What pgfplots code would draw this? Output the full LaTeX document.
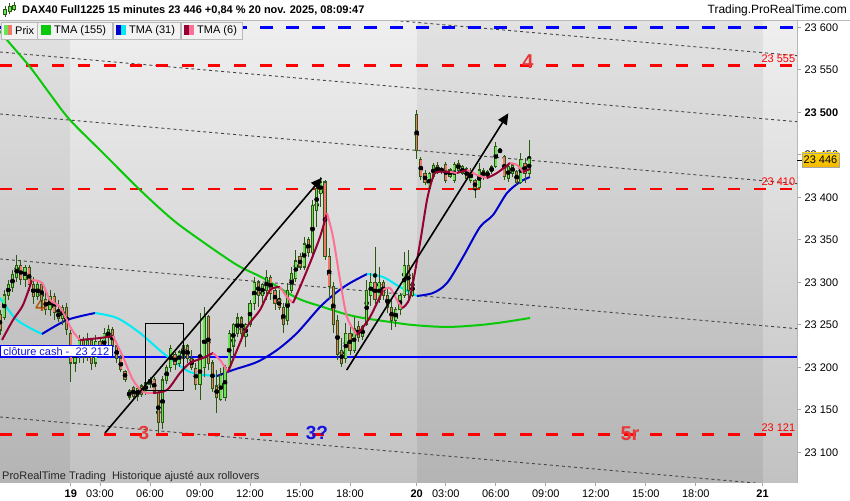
\documentclass[border=0pt]{standalone}
\usepackage{pgfplots}
\pgfplotsset{compat=1.18}
\usepackage{pgfplotstable}
\usepackage{fontspec}
\setmainfont{Liberation Sans}
\usetikzlibrary{arrows.meta}

\newcommand{\fsz}[1]{\fontsize{#1}{#1}\selectfont}

\definecolor{upfill}{RGB}{105,228,85}
\definecolor{dnfill}{RGB}{238,120,105}
\definecolor{wick}{RGB}{42,88,16}
\definecolor{tmaG}{RGB}{10,200,10}
\definecolor{tmaBup}{RGB}{0,0,205}
\definecolor{tmaBdn}{RGB}{0,235,245}
\definecolor{tmaRup}{RGB}{150,0,50}
\definecolor{tmaRdn}{RGB}{255,112,150}
\definecolor{lvlred}{RGB}{255,0,0}
\definecolor{lvlblue}{RGB}{0,0,255}
\definecolor{lblred}{RGB}{232,56,56}
\definecolor{lblblue}{RGB}{20,20,225}
\definecolor{brown4}{RGB}{175,90,10}
\definecolor{chan}{RGB}{70,70,70}
\definecolor{bgLt}{RGB}{239,239,239}
\definecolor{bgLb}{RGB}{194,194,194}
\definecolor{bgDt}{RGB}{226,226,226}
\definecolor{bgDb}{RGB}{180,180,180}
\definecolor{legbg}{RGB}{242,242,242}
\definecolor{legbd}{RGB}{185,185,185}

% DAX40 15 min candles: x = trading hours from 19 nov. 00:00 (session gap removed)
\pgfplotstableread{
x o h l c
-3.00 23262 23267 23238 23244
-2.75 23259 23291 23256 23285
-2.50 23285 23303 23279 23297
-2.25 23294 23314 23288 23309
-2.00 23306 23332 23300 23320
-1.75 23320 23326 23297 23303
-1.50 23303 23320 23295 23317
-1.25 23317 23320 23290 23297
-1.00 23297 23306 23275 23283
-0.75 23283 23303 23279 23297
-0.50 23297 23300 23270 23279
-0.25 23280 23288 23262 23268
0.00 23268 23291 23260 23283
0.25 23283 23287 23256 23265
0.50 23265 23279 23253 23258
0.75 23258 23273 23250 23270
1.00 23270 23276 23238 23244
1.25 23240 23244 23183 23205
1.50 23205 23226 23195 23222
1.75 23215 23238 23205 23232
2.00 23232 23236 23205 23212
2.25 23212 23240 23208 23232
2.50 23232 23235 23197 23205
2.75 23205 23238 23200 23230
3.00 23230 23234 23211 23215
3.25 23218 23246 23215 23240
3.50 23235 23250 23226 23244
3.75 23244 23247 23220 23225
4.00 23225 23229 23205 23210
4.25 23210 23214 23194 23197
4.50 23195 23197 23183 23186
4.75 23165 23175 23162 23172
5.00 23176 23178 23163 23166
5.25 23166 23178 23160 23175
5.50 23178 23180 23165 23168
5.75 23170 23185 23168 23182
6.00 23180 23189 23176 23186
6.25 23186 23188 23168 23172
6.50 23170 23173 23121 23135
6.75 23135 23190 23128 23185
7.00 23185 23203 23180 23200
7.25 23200 23226 23195 23222
7.50 23215 23218 23197 23203
7.75 23205 23220 23200 23218
8.00 23210 23236 23205 23225
8.25 23225 23228 23205 23210
8.50 23210 23220 23197 23200
8.75 23199 23205 23173 23180
9.00 23180 23264 23162 23210
9.25 23200 23271 23189 23260
9.50 23260 23262 23197 23205
9.75 23205 23209 23171 23175
10.00 23178 23197 23146 23165
10.25 23162 23199 23160 23190
10.50 23165 23203 23160 23200
10.75 23200 23244 23197 23240
11.00 23225 23252 23211 23250
11.25 23240 23264 23236 23258
11.50 23258 23260 23230 23240
11.75 23236 23252 23224 23250
12.00 23250 23279 23247 23275
12.25 23275 23306 23267 23300
12.50 23300 23303 23271 23285
12.75 23285 23299 23276 23297
13.00 23290 23314 23279 23306
13.25 23306 23309 23279 23287
13.50 23290 23294 23267 23275
13.75 23280 23291 23267 23270
14.00 23270 23276 23240 23250
14.25 23255 23299 23250 23290
14.50 23290 23318 23287 23310
14.75 23305 23338 23300 23325
15.00 23330 23334 23314 23318
15.25 23318 23353 23314 23345
15.50 23350 23353 23330 23335
15.75 23335 23397 23330 23390
16.00 23385 23417 23365 23410
16.25 23405 23424 23389 23418
16.50 23418 23420 23326 23330
16.75 23330 23340 23280 23295
17.00 23295 23300 23240 23250
17.25 23255 23262 23209 23215
17.50 23220 23234 23200 23205
17.75 23210 23252 23205 23240
18.00 23240 23247 23215 23220
18.25 23220 23259 23217 23245
18.50 23248 23255 23230 23235
18.75 23236 23250 23232 23248
19.00 23250 23303 23248 23290
19.25 23285 23311 23272 23300
19.50 23300 23342 23274 23280
19.75 23280 23318 23276 23300
20.00 23300 23303 23279 23285
20.25 23285 23294 23264 23270
20.50 23270 23279 23244 23255
20.75 23255 23271 23247 23268
21.00 23268 23287 23262 23285
21.25 23285 23336 23282 23320
21.50 23320 23338 23279 23290
21.75 23285 23311 23283 23300
22.00 23497 23503 23445 23455
22.25 23444 23447 23420 23425
22.50 23428 23432 23415 23418
22.75 23410 23430 23406 23428
23.00 23425 23440 23422 23437
23.25 23437 23441 23427 23430
23.50 23430 23436 23428 23434
23.75 23438 23441 23417 23420
24.00 23425 23435 23423 23432
24.25 23420 23441 23417 23438
24.50 23440 23444 23430 23432
24.75 23428 23438 23426 23436
25.00 23434 23436 23420 23422
25.25 23420 23434 23417 23430
25.50 23420 23422 23399 23410
25.75 23412 23440 23410 23432
26.00 23432 23434 23420 23424
26.25 23424 23432 23422 23430
26.50 23430 23438 23428 23436
26.75 23436 23465 23434 23460
27.00 23456 23457 23452 23454
27.25 23448 23450 23420 23425
27.50 23422 23440 23418 23436
27.75 23428 23440 23424 23438
28.00 23430 23432 23414 23418
28.25 23418 23452 23416 23445
28.50 23440 23446 23417 23428
28.75 23428 23468 23424 23446
}\candles

\begin{document}
\begin{tikzpicture}[x=1pt,y=1pt]
\fill[white] (0,0) rectangle (850,500);
\path[use as bounding box] (0,0) rectangle (850,500);

\begin{axis}[
  at={(0pt,18pt)}, anchor=south west,
  width=797pt, height=461pt, scale only axis,
  xmin=-3, xmax=44.82, ymin=23065, ymax=23607.4,
  scaled x ticks=false, scaled y ticks=false,
  clip mode=individual,
  axis line style={draw=gray!60, line width=0.8pt},
  tick align=outside, major tick length=4pt,
  tick style={gray!70, line width=0.8pt},
  xtick pos=left, ytick pos=right, yticklabel pos=right,
  ytick={23100,23150,...,23600},
  yticklabels={23 100,23 150,23 200,23 250,23 300,23 350,23 400,23 450,\textbf{23 500},23 550,23 600},
  yticklabel style={font=\fsz{11}, anchor=west, xshift=0pt},
  xtick={1.25,3,6,9,12,15,18,22,23.75,26.75,29.75,32.75,35.75,38.75,42.75},
  xticklabels={\textbf{19},03:00,06:00,09:00,12:00,15:00,18:00,\textbf{20},03:00,06:00,09:00,12:00,15:00,18:00,\textbf{21}},
  xticklabel style={font=\fsz{11}},
]
% day bands
\fill[top color=bgDt, bottom color=bgDb] (axis cs:-3,23065) rectangle (axis cs:1.2,23607.4);
\fill[top color=bgLt, bottom color=bgLb] (axis cs:1.2,23065) rectangle (axis cs:22.02,23607.4);
\fill[top color=bgDt, bottom color=bgDb] (axis cs:22.02,23065) rectangle (axis cs:42.78,23607.4);
\fill[top color=bgLt, bottom color=bgLb] (axis cs:42.78,23065) rectangle (axis cs:44.82,23607.4);

% channel lines
\addplot[chan, line width=0.9pt, dash pattern=on 3pt off 3pt] coordinates {(-3,23648.6) (44.82,23566.6)};
\addplot[chan, line width=0.9pt, dash pattern=on 3pt off 3pt] coordinates {(-3,23570.9) (44.82,23488.9)};
\addplot[chan, line width=0.9pt, dash pattern=on 3pt off 3pt] coordinates {(-3,23498.0) (44.82,23416.0)};
\addplot[chan, line width=0.9pt, dash pattern=on 3pt off 3pt] coordinates {(-3,23327.4) (44.82,23245.4)};
\addplot[chan, line width=0.9pt, dash pattern=on 3pt off 3pt] coordinates {(-3,23141.5) (44.82,23059.5)};

% levels
\addplot[lvlblue, line width=2.5pt, dash pattern=on 13pt off 13pt] coordinates {(-3,23600) (44.82,23600)};
\addplot[lvlred, line width=2.5pt, dash pattern=on 12pt off 14pt] coordinates {(-3,23555) (44.82,23555)};
\addplot[lvlred, line width=2.5pt, dash pattern=on 12pt off 14pt] coordinates {(-3,23410) (44.82,23410)};
\addplot[lvlred, line width=2.5pt, dash pattern=on 12pt off 14pt] coordinates {(-3,23121) (44.82,23121)};
\addplot[lvlblue, line width=2pt] coordinates {(-3,23212) (44.82,23212)};

\node[font=\bfseries\fsz{17}, text=brown4] at (axis cs:-0.6,23273) {4};

% TMA (155)
\addplot[tmaG, line width=2pt, smooth] coordinates {
(-3,23595.6) (-2.58,23585.0) (-1.2,23553.3) (0,23521.5) (1.2,23490.9) (3.18,23452.1)
(5.4,23408.6) (7.38,23373.3) (9.18,23347.4) (11.22,23320.3) (12.78,23305.0)
(14.82,23281.5) (16.38,23270.9) (17.7,23262.7) (18.78,23258.0) (20.4,23253.3)
(21.78,23249.7) (23.82,23247.4) (25.8,23249.7) (27.3,23253.3) (28.8,23258.0)};

% TMA (31)
\addplot[tmaBdn, line width=2pt, smooth] coordinates {(-3,23281.5) (-1.98,23255.6) (-0.48,23239.1)};
\addplot[tmaBup, line width=2pt, smooth] coordinates {(-0.48,23239.1) (1.02,23255.6) (2.7,23263.8)};
\addplot[tmaBdn, line width=2pt, smooth] coordinates {(2.7,23263.8) (4.02,23258.0) (5.4,23240.3) (6.78,23216.8) (8.4,23194.4) (10.02,23189.7)};
\addplot[tmaBup, line width=2pt, smooth] coordinates {(10.02,23189.7) (10.98,23196.8) (12.42,23206.2) (13.62,23220.3) (14.82,23240.3) (16.2,23270.9) (17.22,23288.6) (18,23299.1) (19.02,23309.7)};
\addplot[tmaBdn, line width=2pt, smooth] coordinates {(19.02,23309.7) (19.98,23306.2) (21,23294.4) (22.02,23283.9)};
\addplot[tmaBup, line width=2pt, smooth] coordinates {(22.02,23283.9) (22.98,23287.4) (23.82,23299.1) (24.78,23329.7) (25.8,23365.0) (26.58,23379.1) (27.42,23405.0) (28.2,23418.0) (28.8,23423.9)};

% candles: wicks, body outlines, bodies
\addplot[only marks, mark=none, error bars/.cd, y dir=both, y explicit, error mark=none,
  error bar style={draw=wick, line width=1pt}]
  table[x=x, y expr={(\thisrow{h}+\thisrow{l})/2}, y error expr={(\thisrow{h}-\thisrow{l})/2}] {\candles};
\addplot[only marks, mark=none, error bars/.cd, y dir=both, y explicit, error mark=none,
  error bar style={draw=wick, line width=3.3pt}]
  table[x=x, y expr={(\thisrow{o}+\thisrow{c})/2}, y error expr={abs(\thisrow{c}-\thisrow{o})/2+0.7}] {\candles};
\addplot[only marks, mark=none, restrict y to domain=23000:24000,
  error bars/.cd, y dir=both, y explicit, error mark=none,
  error bar style={draw=upfill, line width=1.5pt}]
  table[x=x, y expr={(\thisrow{c}>=\thisrow{o}) ? (\thisrow{o}+\thisrow{c})/2 : 0},
        y error expr={max(abs(\thisrow{c}-\thisrow{o})/2-0.6,0.2)}] {\candles};
\addplot[only marks, mark=none, restrict y to domain=23000:24000,
  error bars/.cd, y dir=both, y explicit, error mark=none,
  error bar style={draw=dnfill, line width=1.5pt}]
  table[x=x, y expr={(\thisrow{c}<\thisrow{o}) ? (\thisrow{o}+\thisrow{c})/2 : 0},
        y error expr={max(abs(\thisrow{c}-\thisrow{o})/2-0.6,0.2)}] {\candles};

% TMA (6)
\addplot[tmaRup, line width=2pt, smooth] coordinates {(-2.88,23232.1) (-2.22,23255.6) (-1.62,23273.3) (-1.08,23302.7)};
\addplot[tmaRdn, line width=2pt, smooth] coordinates {(-1.08,23302.7) (-0.48,23299.1) (0,23279.1) (0.6,23270.9) (1.32,23243.8) (1.8,23232.1)};
\addplot[tmaRup, line width=2pt, smooth] coordinates {(1.8,23232.1) (3,23234.4) (3.78,23236.8)};
\addplot[tmaRdn, line width=2pt, smooth] coordinates {(3.78,23236.8) (4.38,23212.1) (4.98,23185.0) (5.58,23171.0) (6.18,23169.8)};
\addplot[tmaRup, line width=2pt, smooth] coordinates {(6.18,23169.8) (7.02,23173.3) (7.8,23193.3) (8.4,23205.0) (9.18,23210.9) (9.78,23216.8)};
\addplot[tmaRdn, line width=2pt, smooth] coordinates {(9.78,23216.8) (10.2,23208.6) (10.68,23194.4)};
\addplot[tmaRup, line width=2pt, smooth] coordinates {(10.68,23194.4) (11.22,23220.3) (11.82,23247.4) (12.6,23267.4) (13.2,23290.9) (13.8,23294.4)};
\addplot[tmaRdn, line width=2pt, smooth] coordinates {(13.8,23294.4) (14.22,23282.7) (14.58,23275.6)};
\addplot[tmaRup, line width=2pt, smooth] coordinates {(14.58,23275.6) (15,23294.4) (15.6,23322.7) (16.2,23353.3) (16.62,23381.5)};
\addplot[tmaRdn, line width=2pt, smooth] coordinates {(16.62,23381.5) (16.98,23353.3) (17.4,23303.0) (17.82,23259.1) (18.42,23238.0)};
\addplot[tmaRup, line width=2pt, smooth] coordinates {(18.42,23238.0) (19.2,23259.1) (19.98,23290.9)};
\addplot[tmaRdn, line width=2pt, smooth] coordinates {(19.98,23290.9) (20.4,23293.3) (20.82,23279.1) (21.12,23269.7)};
\addplot[tmaRup, line width=2pt, smooth] coordinates {(21.12,23269.7) (21.6,23282.7) (22.2,23346.2) (22.62,23396.8) (22.98,23423.9) (23.22,23429.8) (24,23429.8)};
\addplot[tmaRdn, line width=2pt, smooth] coordinates {(24,23429.8) (24.42,23428.6)};
\addplot[tmaRup, line width=2pt, smooth] coordinates {(24.42,23428.6) (25.02,23432.1)};
\addplot[tmaRdn, line width=2pt, smooth] coordinates {(25.02,23432.1) (25.62,23426.2) (26.22,23422.7)};
\addplot[tmaRup, line width=2pt, smooth] coordinates {(26.22,23422.7) (26.82,23428.6) (27.6,23440.3)};
\addplot[tmaRdn, line width=2pt, smooth] coordinates {(27.6,23440.3) (28.02,23438.0) (28.38,23429.8)};
\addplot[tmaRup, line width=2pt, smooth] coordinates {(28.38,23429.8) (28.8,23433.3)};

% drawn arrows and box
\addplot[black, line width=1.6pt, -{Triangle[length=11pt,width=10pt]}] coordinates {(3.3,23122.7) (16.32,23423.0)};
\addplot[black, line width=1.6pt, -{Triangle[length=11pt,width=10pt]}] coordinates {(17.8,23196.7) (27.5,23498.8)};
\draw[black, line width=0.8pt] (axis cs:5.7,23252.1) rectangle (axis cs:7.98,23173.3);

% labels
\node[font=\bfseries\fsz{20}, text=lblred] at (axis cs:28.68,23559.2) {4};
\node[font=\bfseries\fsz{19}, text=lblred] at (axis cs:5.64,23122.1) {3};
\node[font=\bfseries\fsz{19}, text=lblblue] at (axis cs:16.02,23122.1) {3?};
\node[font=\bfseries\fsz{20}, text=lblred] at (axis cs:34.8,23122.1) {5r};
\node[font=\fsz{11}, text=lvlred, anchor=east, inner sep=0pt] at (axis cs:44.72,23562.7) {23 555};
\node[font=\fsz{11}, text=lvlred, anchor=east, inner sep=0pt] at (axis cs:44.72,23418.6) {23 410};
\node[font=\fsz{11}, text=lvlred, anchor=east, inner sep=0pt] at (axis cs:44.72,23129.2) {23 121};
\node[font=\fsz{11}, text=lblblue, fill=white, draw=lvlblue, line width=0.8pt, anchor=south west,
  inner xsep=3pt, inner ysep=1.5pt] at (axis cs:-3,23212) {clôture cash -\ \ 23 212};
\end{axis}

% header
\draw[gray!55, line width=0.8pt] (0,479.5) -- (850,479.5);
\foreach \cx/\ya/\yb/\yc/\yd in {5/483/486/491/494, 9.5/486/489/494/497, 14/489/491/495/498}{
  \draw[wick, line width=0.6pt] (\cx,\ya) -- (\cx,\yd);
  \draw[wick, fill=upfill, line width=0.5pt] (\cx-1.5,\yb) rectangle (\cx+1.5,\yc);
}
\node[font=\bfseries\fsz{11}, anchor=west, inner sep=0pt] at (22,490) {DAX40 Full1225 15 minutes 23 446 +0,84 \% 20 nov. 2025, 08:09:47};
\node[font=\fsz{12}, anchor=east, inner sep=0pt] at (847,489.5) {Trading.ProRealTime.com};

% legend boxes
\draw[fill=legbg, draw=legbd, line width=0.7pt] (1,461) rectangle (37,478);
\fill[upfill] (4,464.5) rectangle (8,474.5);
\fill[dnfill] (8,464.5) rectangle (12,474.5);
\node[font=\fsz{11}, anchor=west, inner sep=0pt] at (15,469.5) {Prix};
\draw[fill=legbg, draw=legbd, line width=0.7pt] (37,461) rectangle (112,478);
\fill[tmaG] (41,464.5) rectangle (51,474.5);
\node[font=\fsz{11}, anchor=west, inner sep=0pt] at (54,469.5) {TMA (155)};
\draw[fill=legbg, draw=legbd, line width=0.7pt] (113,461) rectangle (180,478);
\fill[tmaBup] (116,464.5) rectangle (121,474.5);
\fill[tmaBdn] (121,464.5) rectangle (126,474.5);
\node[font=\fsz{11}, anchor=west, inner sep=0pt] at (129,469.5) {TMA (31)};
\draw[fill=legbg, draw=legbd, line width=0.7pt] (181,461) rectangle (242,478);
\fill[tmaRup] (184,464.5) rectangle (189,474.5);
\fill[tmaRdn] (189,464.5) rectangle (194,474.5);
\node[font=\fsz{11}, anchor=west, inner sep=0pt] at (197,469.5) {TMA (6)};

% footer note and price flag
\node[font=\fsz{11}, anchor=west, inner sep=0pt, text=black!85] at (2,23) {ProRealTime Trading\ \ Historique ajusté aux rollovers};
\draw[black, line width=0.8pt] (797,340) -- (803,340);
\node[font=\fsz{11}, draw=gray!70, line width=0.6pt, top color={rgb,255:red,255;green,214;blue,0}, bottom color={rgb,255:red,242;green,184;blue,0},
  inner xsep=1.5pt, inner ysep=1.5pt, minimum height=14pt] at (820.5,340) {23 446};
\end{tikzpicture}
\end{document}
